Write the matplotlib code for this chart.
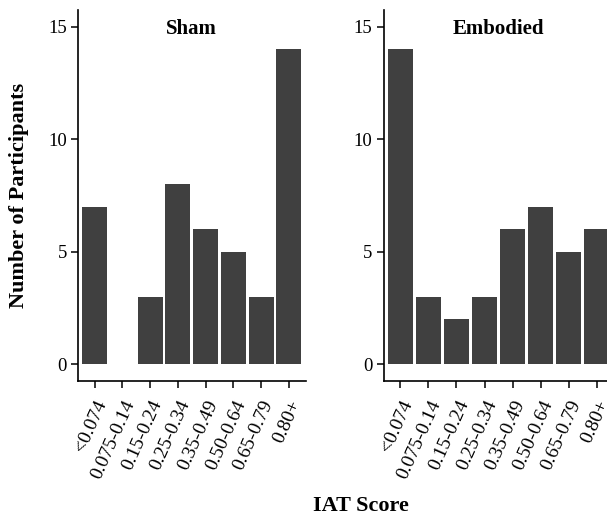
import matplotlib
matplotlib.use("Agg")
import matplotlib.pyplot as plt
import numpy as np

plt.rcParams['font.family'] = ['Liberation Serif', 'DejaVu Serif']

# IAT score bins and counts per condition
bins = ['<0.074', '0.075-0.14', '0.15-0.24', '0.25-0.34',
        '0.35-0.49', '0.50-0.64', '0.65-0.79', '0.80+']
sham = [7, 0, 3, 8, 6, 5, 3, 14]
embodied = [14, 3, 2, 3, 6, 7, 5, 6]

fig = plt.figure(figsize=(6.07, 5.17), dpi=100, facecolor='w')

# panel positions (right panel runs off the edge like the original)
ax1 = fig.add_axes([0.1285, 0.263, 0.3748, 0.7176])
ax2 = fig.add_axes([0.6318, 0.263, 0.379, 0.7176])

for ax, counts, title in [(ax1, sham, 'Sham'), (ax2, embodied, 'Embodied')]:
    x = np.arange(len(bins))
    ax.bar(x, counts, width=0.9, color='#404040')
    ax.set_xlim(-0.6, len(bins) - 0.4)
    ax.set_ylim(-0.75, 15.75)
    ax.set_yticks([0, 5, 10, 15])
    ax.set_xticks(x)
    ax.set_xticklabels(bins, rotation=66, ha='right', va='top',
                       rotation_mode='anchor')
    ax.tick_params(labelsize=13.5, length=5, width=1.1, direction='out',
                   colors='black', pad=3)
    ax.tick_params(axis='x', labelsize=14, pad=7)
    ax.spines['top'].set_visible(False)
    ax.spines['right'].set_visible(False)
    ax.spines['left'].set_linewidth(1.2)
    ax.spines['bottom'].set_linewidth(1.2)
    ax.text(0.5, 0.95, title, transform=ax.transAxes, ha='center',
            va='center', fontsize=15, fontweight='bold')

fig.text(0.031, 0.622, 'Number of Participants', rotation=90, ha='center',
         va='center', fontsize=16, fontweight='bold')
fig.text(0.595, 0.021, 'IAT Score', ha='center', va='center',
         fontsize=16, fontweight='bold')

plt.savefig('out.png', dpi=100)
